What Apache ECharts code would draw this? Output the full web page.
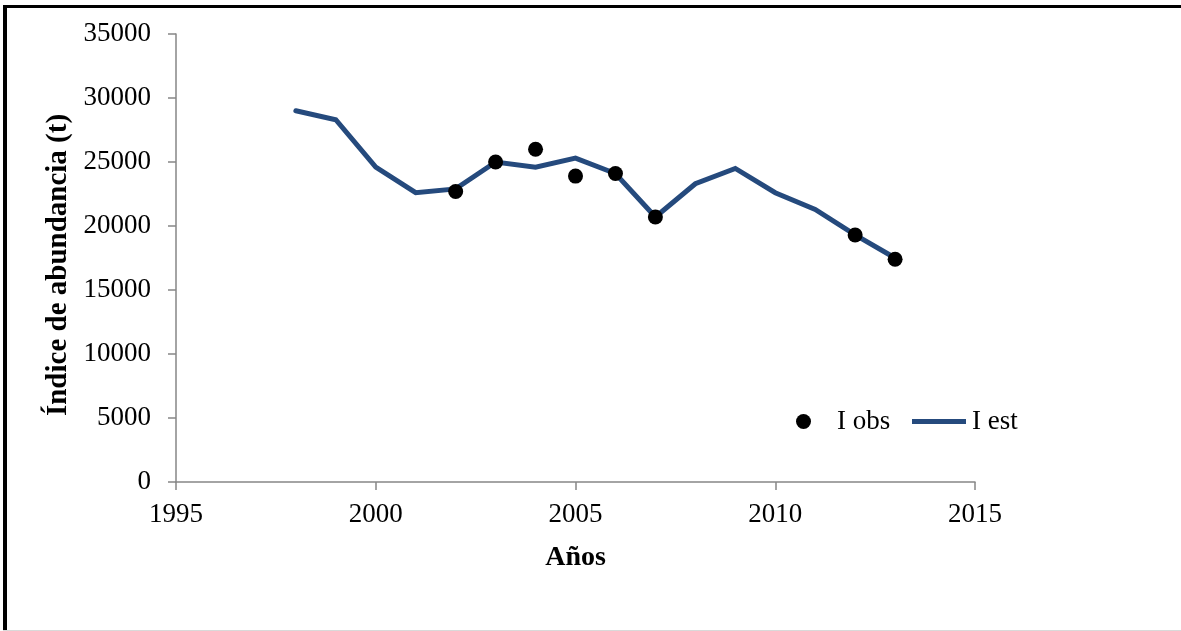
<!DOCTYPE html>
<html>
<head>
<meta charset="utf-8">
<script src="https://cdn.jsdelivr.net/npm/echarts@6/dist/echarts.min.js"></script>
<style>
html,body{margin:0;padding:0;background:#fff;}
#c{width:1181px;height:631px;}
</style>
</head>
<body>
<div id="c"></div>
<script>
const yearsEst = [1998,1999,2000,2001,2002,2003,2004,2005,2006,2007,2008,2009,2010,2011,2012,2013];
const iEst = [29000,28300,24600,22600,22900,25000,24600,25300,24100,20700,23300,24500,22600,21300,19300,17500];
const yearsObs = [2002,2003,2004,2005,2006,2007,2012,2013];
const iObs = [22700,25000,26000,23900,24100,20700,19300,17400];
const xTicks = [1995,2000,2005,2010,2015];
const yTicks = [0,5000,10000,15000,20000,25000,30000,35000];

const FONT = 'Liberation Serif';
const LINE = '#254A7D';
const chart = echarts.init(document.getElementById('c'), null, {renderer:'canvas'});
chart.setOption({
  backgroundColor:'#fff',
  animation:false,
  graphic:[
    {type:'rect', shape:{x:3,y:5,width:1200,height:3}, style:{fill:'#000'}, silent:true},
    {type:'rect', shape:{x:3,y:5,width:4,height:630}, style:{fill:'#000'}, silent:true},
    {type:'rect', shape:{x:3,y:630,width:1200,height:1}, style:{fill:'#d9d9d9'}, silent:true}
  ],
  grid:{left:176, right:206, top:34, bottom:149, containLabel:false},
  legend:[
    {data:[{name:'I obs', icon:'circle', itemStyle:{opacity:1}}], left:796, top:408, padding:0, itemWidth:15, itemHeight:15,
     textStyle:{fontFamily:FONT, fontSize:27, color:'#000', padding:[0,0,0,21]}},
    {data:[{name:'I est', icon:'rect'}], left:912, top:408, padding:0, itemWidth:54, itemHeight:5,
     textStyle:{fontFamily:FONT, fontSize:27, color:'#000', padding:[0,0,0,1]}}
  ],
  xAxis:{
    type:'value', min:xTicks[0], max:xTicks[xTicks.length-1], interval:5,
    name:'Años', nameLocation:'middle', nameGap:62,
    nameTextStyle:{fontFamily:FONT, fontSize:28, fontWeight:'bold', color:'#000'},
    axisLine:{show:true, lineStyle:{color:'#868686', width:1.5}},
    axisTick:{show:true, inside:false, length:8, lineStyle:{color:'#868686', width:1.5}},
    axisLabel:{fontFamily:FONT, fontSize:27, color:'#000', margin:19, formatter:v=>String(v)},
    splitLine:{show:false}
  },
  yAxis:{
    type:'value', min:yTicks[0], max:yTicks[yTicks.length-1], interval:5000,
    name:'Índice de abundancia (t)', nameLocation:'middle', nameGap:101,
    nameTextStyle:{fontFamily:FONT, fontSize:29, fontWeight:'bold', color:'#000', padding:[0,14,0,0]},
    axisLine:{show:true, lineStyle:{color:'#868686', width:1.5}},
    axisTick:{show:true, inside:false, length:8, lineStyle:{color:'#868686', width:1.5}},
    axisLabel:{fontFamily:FONT, fontSize:27, color:'#000', margin:25, formatter:v=>String(v)},
    splitLine:{show:false}
  },
  series:[
    {name:'I obs', type:'scatter', data:yearsObs.map((y,i)=>[y,iObs[i]]),
     symbol:'circle', symbolSize:15, itemStyle:{color:'#000', opacity:1}, z:3},
    {name:'I est', type:'line', data:yearsEst.map((y,i)=>[y,iEst[i]]),
     showSymbol:false, symbol:'none', lineStyle:{color:LINE, width:5, cap:'round', join:'miter'},
     itemStyle:{color:LINE}, z:2}
  ]
});
</script>
</body>
</html>
